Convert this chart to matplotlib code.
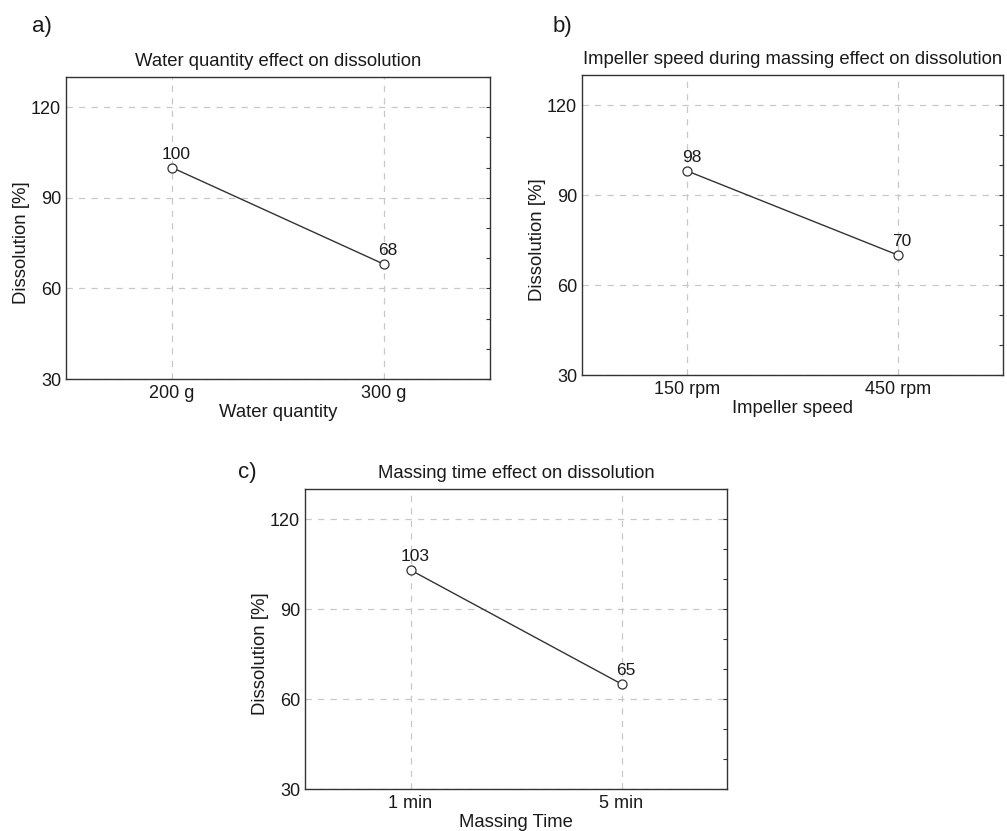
import matplotlib
matplotlib.use("Agg")
import matplotlib.pyplot as plt
from matplotlib.ticker import MultipleLocator

plt.rcParams['font.family'] = ['Liberation Sans', 'DejaVu Sans']

# data
water_cats = ['200 g', '300 g']
water_vals = [100, 68]
speed_cats = ['150 rpm', '450 rpm']
speed_vals = [98, 70]
time_cats = ['1 min', '5 min']
time_vals = [103, 65]

W, H = 1007, 831
fig = plt.figure(figsize=(W / 100, H / 100), dpi=100)

txt = '#1a1a1a'
ink = '#333333'


def box(l, t, r, b):  # pixel box -> figure fraction
    return [l / W, 1 - b / H, (r - l) / W, (b - t) / H]


def panel(rect, cats, vals, title, xlabel):
    ax = fig.add_axes(rect)
    x = list(range(len(cats)))
    ax.plot(x, vals, color=ink, lw=1.0, marker='o', ms=6.5,
            mfc='white', mec=ink, mew=0.9, zorder=3)
    for xi, v in zip(x, vals):
        ax.annotate(str(v), (xi, v), xytext=(3, 6.5), textcoords='offset points',
                    ha='center', va='baseline', fontsize=12.5, color=txt)
    ax.set_xlim(-0.5, 1.5)
    ax.set_ylim(30, 130)
    ax.set_xticks(x)
    ax.set_xticklabels(cats)
    ax.set_yticks([30, 60, 90, 120])
    ax.yaxis.set_minor_locator(MultipleLocator(10))
    ax.tick_params(axis='x', length=0, pad=4, labelsize=13, labelcolor=txt)
    ax.tick_params(axis='y', which='both', left=False, right=True,
                   direction='in', length=3, width=0.8, color=ink,
                   labelleft=True, pad=3.5, labelsize=13, labelcolor=txt)
    ax.grid(True, which='major', color='#c8c8c8', linestyle=(0, (5, 5)), lw=0.9)
    for s in ax.spines.values():
        s.set_color(ink)
        s.set_linewidth(1.0)
    ax.set_title(title, fontsize=13.3, color=txt, pad=8)
    ax.set_xlabel(xlabel, fontsize=13.3, color=txt, labelpad=2)
    ax.set_ylabel('Dissolution [%]', fontsize=13.4, color=txt, labelpad=1, y=0.45)
    return ax


panel(box(66, 77, 490, 379), water_cats, water_vals,
      'Water quantity effect on dissolution', 'Water quantity')
panel(box(582, 75, 1003, 375), speed_cats, speed_vals,
      'Impeller speed during massing effect on dissolution', 'Impeller speed')
panel(box(305, 489, 727, 789), time_cats, time_vals,
      'Massing time effect on dissolution', 'Massing Time')

fig.text(32 / W, 1 - 32 / H, 'a)', fontsize=16, color=txt, va='baseline')
fig.text(553 / W, 1 - 32 / H, 'b)', fontsize=16, color=txt, va='baseline')
fig.text(238 / W, 1 - 478 / H, 'c)', fontsize=16, color=txt, va='baseline')

fig.savefig('out.png', dpi=100)
